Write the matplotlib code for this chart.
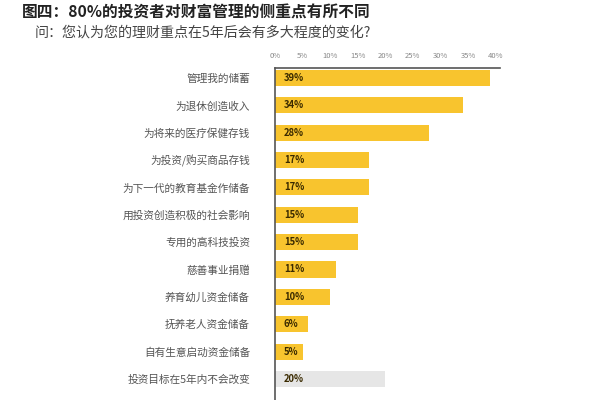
import matplotlib.pyplot as plt

plt.rcParams['font.family'] = ['Noto Sans CJK SC', 'DejaVu Sans']

categories = ["管理我的储蓄", "为退休创造收入", "为将来的医疗保健存钱", "为投资/购买商品存钱",
              "为下一代的教育基金作储备", "用投资创造积极的社会影响", "专用的高科技投资",
              "慈善事业捐赠", "养育幼儿资金储备", "抚养老人资金储备", "自有生意启动资金储备",
              "投资目标在5年内不会改变"]
values = [39, 34, 28, 17, 17, 15, 15, 11, 10, 6, 5, 20]
bar_colors = ["#F8C42E"] * 11 + ["#E6E6E6"]
tick_values = [0, 5, 10, 15, 20, 25, 30, 35, 40]

fig = plt.figure(figsize=(6, 4), dpi=100)

fig.text(22 / 600, 1 - 13 / 400, "图四：80%的投资者对财富管理的侧重点有所不同",
         fontsize=11.3, fontweight="bold", color="#222222", va="center", ha="left")
fig.text(35 / 600, 1 - 33 / 400, "问：您认为您的理财重点在5年后会有多大程度的变化?",
         fontsize=10.1, color="#444444", va="center", ha="left")

ax = fig.add_axes([275 / 600, 0, 225 / 600, 332 / 400])
y = range(len(categories))
ax.barh(y, values, height=0.585, color=bar_colors)

for i, v in enumerate(values):
    ax.text(1.6, i, f"{v}%", fontsize=6.8, fontweight="bold", color="#3a2a00",
            va="center", ha="left")

ax.set_xlim(0, 40.8)
ax.set_ylim(11.77, -0.365)
ax.xaxis.tick_top()
ax.set_xticks(tick_values)
ax.set_xticklabels([f"{t}%" for t in tick_values], fontsize=5.5, color="#888888")
ax.tick_params(axis="x", length=0, pad=6)
ax.set_yticks(list(y))
ax.set_yticklabels(categories, fontsize=7.7, color="#555555")
ax.tick_params(axis="y", length=0, pad=18)

for side in ["right", "bottom"]:
    ax.spines[side].set_visible(False)
ax.spines["top"].set_color("#555555")
ax.spines["left"].set_color("#555555")
ax.spines["top"].set_linewidth(1.2)
ax.spines["left"].set_linewidth(1.2)

plt.savefig("out.png", dpi=100)
